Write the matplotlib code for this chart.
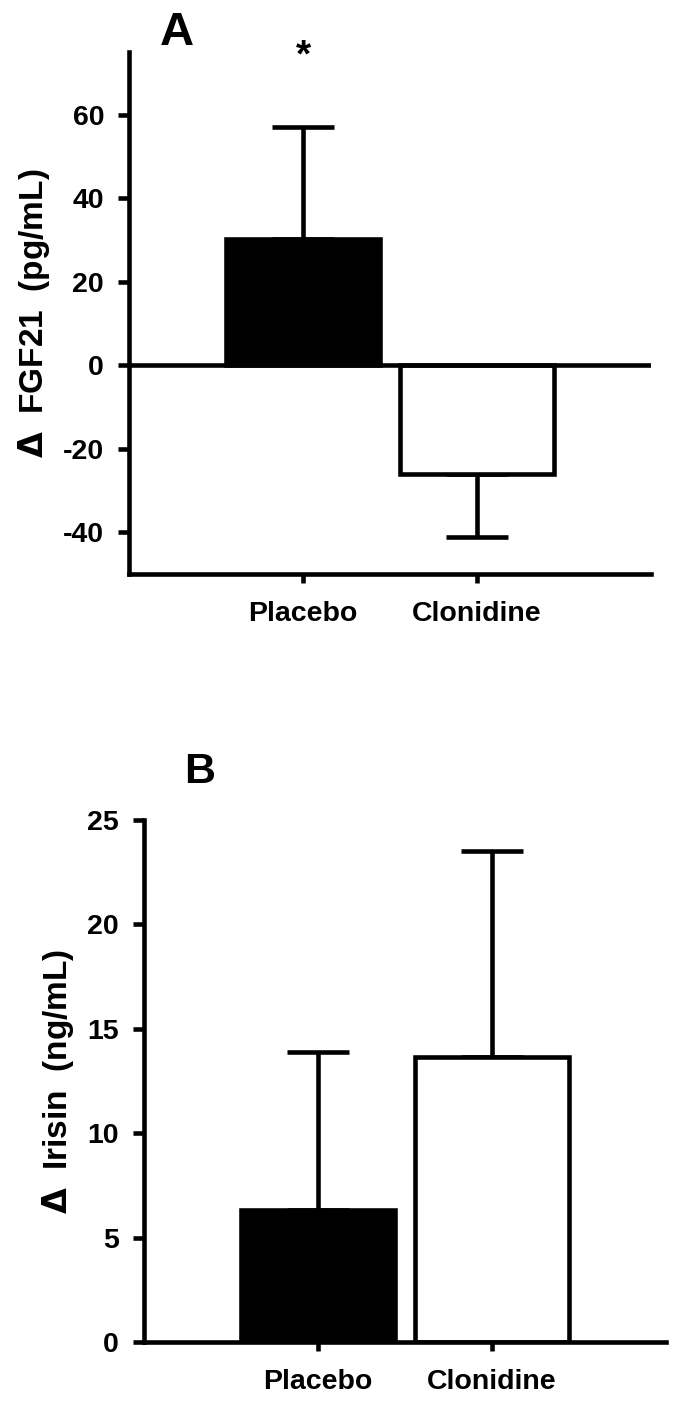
"""Change in FGF21 and irisin after placebo or clonidine (two stacked bar panels)."""

import matplotlib

matplotlib.use("Agg")
import matplotlib.pyplot as plt

groups = ["Placebo", "Clonidine"]
fgf21_mean = [30.2, -26.0]
fgf21_sem = [26.8, 15.2]
irisin_mean = [6.3, 13.65]
irisin_sem = [7.6, 9.85]
fgf21_ticks = [-40, -20, 0, 20, 40, 60]
irisin_ticks = [0, 5, 10, 15, 20, 25]

FONT = ["Liberation Sans", "DejaVu Sans"]
LW = 3.3
W, H = 678, 1401

plt.rcParams["font.family"] = FONT
plt.rcParams["font.weight"] = "bold"
plt.rcParams["axes.unicode_minus"] = False
plt.rcParams["mathtext.fontset"] = "dejavusans"


def px_box(left, top, right, bottom):
    return [left / W, 1 - bottom / H, (right - left) / W, (bottom - top) / H]


def draw_panel(ax, means, sems, ylim, yticks, ylabel):
    x = [1, 2]
    colors = ["black", "white"]
    ax.bar(x, means, width=0.88, color=colors, edgecolor="black", linewidth=LW, zorder=2)
    for xi, m, s in zip(x, means, sems):
        err = [[0], [s]] if m >= 0 else [[s], [0]]
        ax.errorbar(xi, m, yerr=err, fmt="none", ecolor="black", elinewidth=LW,
                    capsize=22, capthick=LW, zorder=1)
    ax.set_xlim(0, 3)
    ax.set_ylim(*ylim)
    ax.set_yticks(yticks)
    ax.set_xticks(x)
    ax.set_xticklabels(groups)
    for side in ["top", "right"]:
        ax.spines[side].set_visible(False)
    for side in ["left", "bottom"]:
        ax.spines[side].set_linewidth(LW)
    ax.tick_params(axis="y", direction="out", length=8, width=LW, pad=10, labelsize=20.5)
    ax.tick_params(axis="x", direction="out", length=6.5, width=LW, pad=13, labelsize=20.5)
    ax.set_ylabel(ylabel, fontsize=24, fontweight="bold", labelpad=8)


fig = plt.figure(figsize=(W / 100, H / 100), dpi=100)

ax_a = fig.add_axes(px_box(129, 52, 651, 574))
draw_panel(ax_a, fgf21_mean, fgf21_sem, (-50, 75), fgf21_ticks, r"$\Delta$  FGF21  (pg/mL)")
ax_a.axhline(0, color="black", linewidth=LW, zorder=3)
ax_a.text(1, 71.5, "*", ha="center", va="baseline", fontsize=28, fontweight="bold")

ax_b = fig.add_axes(px_box(144, 820, 666, 1342))
draw_panel(ax_b, irisin_mean, irisin_sem, (0, 25), irisin_ticks, r"$\Delta$  Irisin  (ng/mL)")

fig.text(177 / W, 1 - 45 / H, "A", ha="center", va="baseline", fontsize=34, fontweight="bold")
fig.text(200 / W, 1 - 783 / H, "B", ha="center", va="baseline", fontsize=31, fontweight="bold")

fig.savefig("out.png", dpi=100)
